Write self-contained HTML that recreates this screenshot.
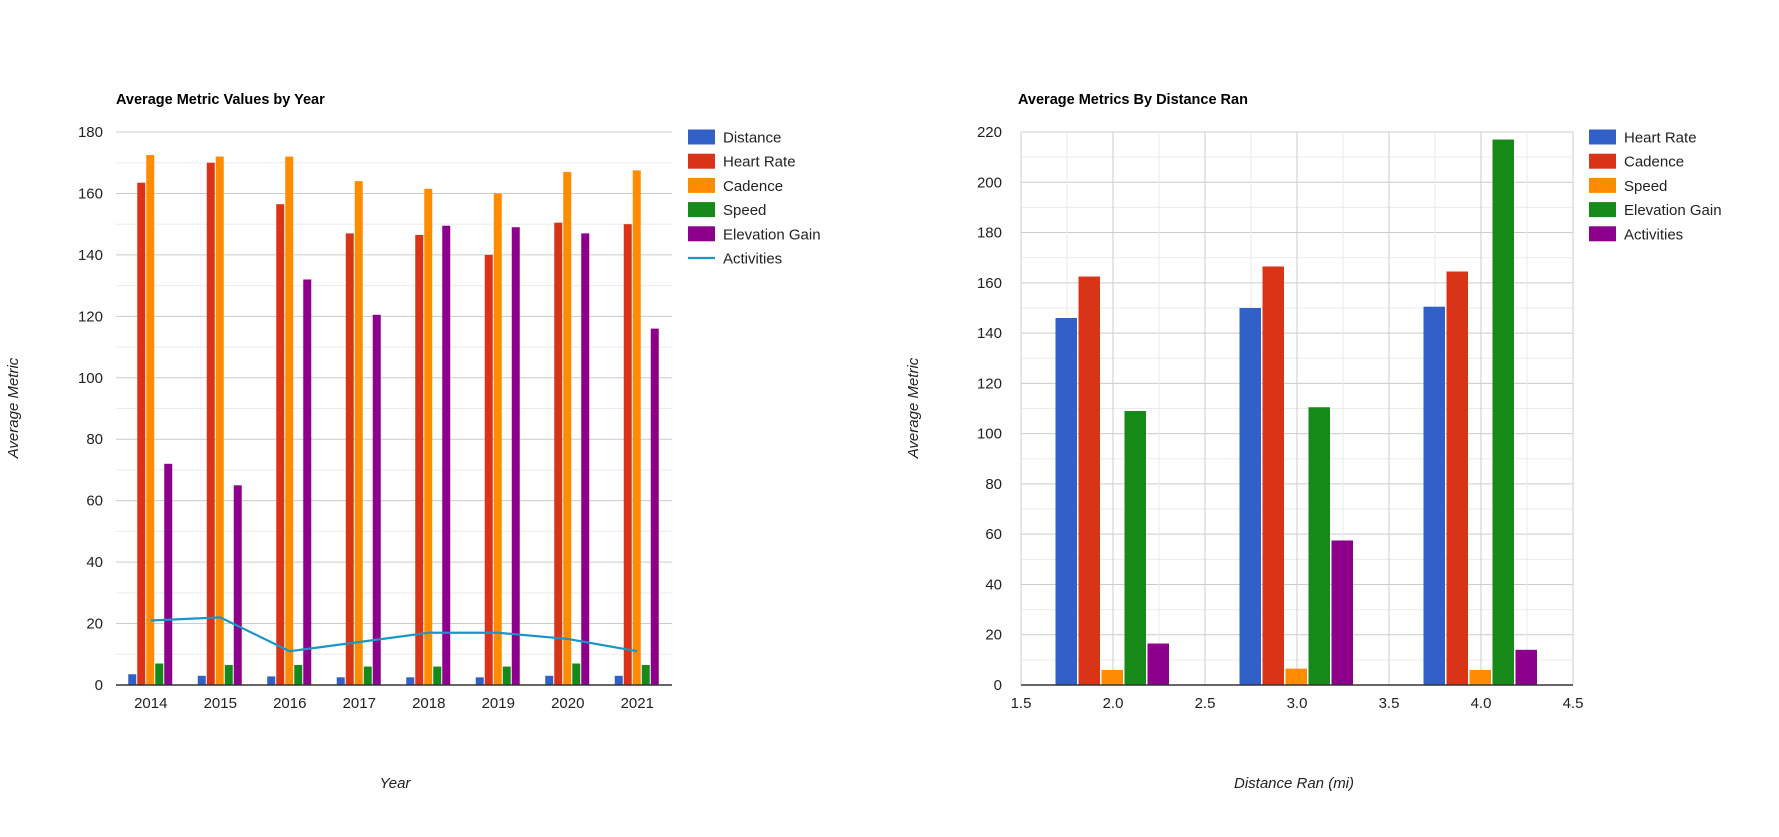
<!DOCTYPE html>
<html><head><meta charset="utf-8">
<style>
html,body{margin:0;padding:0;background:#fff;}
svg{display:block;font-family:"Liberation Sans",Arial,sans-serif;}
</style></head>
<body>
<svg id="root" width="1779" height="837" viewBox="0 0 1779 837" xmlns="http://www.w3.org/2000/svg">
<g id="c1"></g>
<g id="c2"></g>
</svg>
<script>
// Chart 1 data
const years = ["2014","2015","2016","2017","2018","2019","2020","2021"];
const distanceVals = [3.5, 3, 2.8, 2.5, 2.5, 2.5, 3, 3];
const heartRateVals = [163.5, 170, 156.5, 147, 146.5, 140, 150.5, 150];
const cadenceVals = [172.5, 172, 172, 164, 161.5, 160, 167, 167.5];
const speedVals = [7, 6.5, 6.5, 6, 6, 6, 7, 6.5];
const elevationVals = [72, 65, 132, 120.5, 149.5, 149, 147, 116];
const activitiesVals = [21, 22, 11, 14, 17, 17, 15, 11];
const yTicks1 = [0,20,40,60,80,100,120,140,160,180];
// Chart 2 data
const distances = [2.0, 3.0, 4.0];
const hr2 = [146, 150, 150.5];
const cad2 = [162.5, 166.5, 164.5];
const spd2 = [6, 6.5, 6];
const elev2 = [109, 110.5, 217];
const act2 = [16.5, 57.5, 14];
const yTicks2 = [0,20,40,60,80,100,120,140,160,180,200,220];
const xTicks2 = ["1.5","2.0","2.5","3.0","3.5","4.0","4.5"];

const NS = "http://www.w3.org/2000/svg";
const COLORS = ["#3060c8","#d93418","#ff8c00","#168a18","#8c008c"];
function mk(parent, tag, attrs, text){
  const e = document.createElementNS(NS, tag);
  for (const k in attrs) e.setAttribute(k, attrs[k]);
  if (text !== undefined) e.textContent = text;
  parent.appendChild(e);
  return e;
}

// ---------- Chart 1 ----------
(function(){
  const g = document.getElementById('c1');
  const L=116, R=672, T=132, B=685, yMax=180;
  const y = v => B - v/yMax*(B-T);
  const band = (R-L)/years.length;
  const xc = i => L + band*(i+0.5);
  for (let v=0; v<=yMax; v+=10){
    const major = v%20===0;
    const ln = mk(g,'line',{x1:L,x2:R,y1:y(v),y2:y(v),stroke:major?'#cccccc':'#ebebeb','stroke-width':1});
    
    
  }
  yTicks1.forEach(v=>{
    const t = mk(g,'text',{x:L-13,y:y(v)+5,'text-anchor':'end','font-size':15,fill:'#222'},String(v));
    
    
  });
  const series = [distanceVals, heartRateVals, cadenceVals, speedVals, elevationVals];
  const names = ["distance","heart-rate","cadence","speed","elevation-gain"];
  const bw=8, step=9;
  years.forEach((yr,i)=>{
    const start = xc(i) - step*2.5;
    series.forEach((s,k)=>{
      const r = mk(g,'rect',{x:start+k*step,y:y(s[i]),width:bw,height:B-y(s[i]),fill:COLORS[k]});
      
      
    });
    const t = mk(g,'text',{x:xc(i),y:708,'text-anchor':'middle','font-size':15,fill:'#222'},yr);
    
    
  });
  const ax = mk(g,'line',{x1:L,x2:R,y1:B,y2:B,stroke:'#333','stroke-width':1.5});
  
  
  const pts = activitiesVals.map((v,i)=>xc(i)+','+y(v)).join(' ');
  const pl = mk(g,'polyline',{points:pts,fill:'none',stroke:'#1896c8','stroke-width':2.2});
  
  
  const title = mk(g,'text',{x:116,y:104,'font-size':14.5,'font-weight':'bold',fill:'#000'},'Average Metric Values by Year');
  
  
  const yt = mk(g,'text',{x:0,y:0,'font-size':15,'font-style':'italic',fill:'#222','text-anchor':'middle',transform:'translate(18,408) rotate(-90)'},'Average Metric');
  
  
  const xt = mk(g,'text',{x:395,y:788,'font-size':15,'font-style':'italic',fill:'#222','text-anchor':'middle'},'Year');
  
  
  const legNames = ["Distance","Heart Rate","Cadence","Speed","Elevation Gain","Activities"];
  legNames.forEach((n,k)=>{
    const cy = 137 + k*24.2;
    if (k<5){
      const s = mk(g,'rect',{x:688,y:cy-7.5,width:27,height:15,fill:COLORS[k]});
      
      
    } else {
      const s = mk(g,'line',{x1:688,x2:715,y1:cy,y2:cy,stroke:'#1896c8','stroke-width':2.2});
      
      
    }
    const t = mk(g,'text',{x:723,y:cy+5.5,'font-size':15,fill:'#222'},n);
    
    
  });
})();

// ---------- Chart 2 ----------
(function(){
  const g = document.getElementById('c2');
  const L=1021, R=1573, T=132, B=685, yMax=220, xMin=1.5, xMax=4.5;
  const y = v => B - v/yMax*(B-T);
  const x = v => L + (v-xMin)/(xMax-xMin)*(R-L);
  for (let v=0; v<=yMax; v+=10){
    const major = v%20===0;
    const ln = mk(g,'line',{x1:L,x2:R,y1:y(v),y2:y(v),stroke:major?'#cccccc':'#ebebeb','stroke-width':1});
    
    
  }
  for (let v=xMin; v<=xMax+1e-9; v+=0.25){
    const major = Math.abs(v*2-Math.round(v*2))<1e-9;
    const ln = mk(g,'line',{x1:x(v),x2:x(v),y1:T,y2:B,stroke:major?'#cccccc':'#ebebeb','stroke-width':1});
    
    
  }
  yTicks2.forEach(v=>{
    const t = mk(g,'text',{x:L-19,y:y(v)+5,'text-anchor':'end','font-size':15,fill:'#222'},String(v));
    
    
  });
  xTicks2.forEach(s=>{
    const t = mk(g,'text',{x:x(parseFloat(s)),y:708,'text-anchor':'middle','font-size':15,fill:'#222'},s);
    
    
  });
  const series = [hr2, cad2, spd2, elev2, act2];
  const names = ["heart-rate","cadence","speed","elevation-gain","activities"];
  const step=23, bw=21.5;
  distances.forEach((d,i)=>{
    const start = x(d) - step*2.5;
    series.forEach((s,k)=>{
      const r = mk(g,'rect',{x:start+k*step,y:y(s[i]),width:bw,height:B-y(s[i]),fill:COLORS[k]});
      
      
    });
  });
  const ax = mk(g,'line',{x1:L,x2:R,y1:B,y2:B,stroke:'#333','stroke-width':1.5});
  
  
  const title = mk(g,'text',{x:1018,y:104,'font-size':14.5,'font-weight':'bold',fill:'#000'},'Average Metrics By Distance Ran');
  
  
  const yt = mk(g,'text',{x:0,y:0,'font-size':15,'font-style':'italic',fill:'#222','text-anchor':'middle',transform:'translate(918,408) rotate(-90)'},'Average Metric');
  
  
  const xt = mk(g,'text',{x:1294,y:788,'font-size':15,'font-style':'italic',fill:'#222','text-anchor':'middle'},'Distance Ran (mi)');
  
  
  const legNames = ["Heart Rate","Cadence","Speed","Elevation Gain","Activities"];
  legNames.forEach((n,k)=>{
    const cy = 137 + k*24.2;
    const s = mk(g,'rect',{x:1589,y:cy-7.5,width:27,height:15,fill:COLORS[k]});
    
    
    const t = mk(g,'text',{x:1624,y:cy+5.5,'font-size':15,fill:'#222'},n);
    
    
  });
})();
</script>
</body></html>
